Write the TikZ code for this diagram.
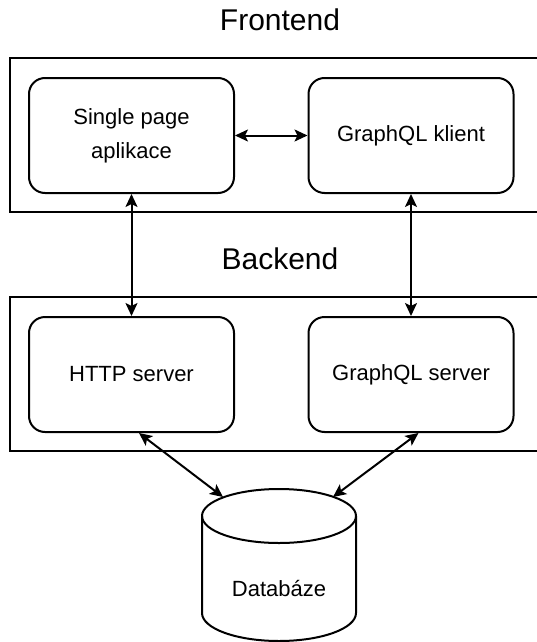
\documentclass[tikz,border=0pt]{standalone}
\usepackage{fontspec}
\setmainfont{Liberation Sans}
\usetikzlibrary{arrows.meta}
\begin{document}
\begin{tikzpicture}[x=1pt,y=-1pt,
  frame/.style={draw,line width=2pt},
  comp/.style={draw,line width=2pt,rounded corners=16pt,minimum width=205pt,minimum height=115pt,inner sep=0pt,font=\fontsize{22}{34}\selectfont,align=center},
  title/.style={font=\fontsize{30}{36}\selectfont,inner sep=0pt,anchor=base},
  conn/.style={line width=2pt,{Stealth[length=13pt,width=12pt,inset=3pt]}-{Stealth[length=13pt,width=12pt,inset=3pt]}}
]
\useasboundingbox (0,0) rectangle (537,642);
\draw[frame] (10,58) rectangle (560,212);
\draw[frame] (10,297) rectangle (560,451);
\node[title] (fe) at (280,31) {Frontend};
\node[title] (be) at (280,269) {Backend};
\node[comp] (spa) at (131.5,135.5) {Single page\\aplikace};
\node[comp] (gqk) at (411,135.5) {GraphQL klient};
\node[comp] (http) at (131.5,374.5) {HTTP server};
\node[comp] (gqs) at (411,374.5) {GraphQL server};
% cylinder
\draw[line width=2pt] (202,516) arc[start angle=180,end angle=-180,x radius=77,y radius=27];
\draw[line width=2pt] (202,516) -- (202,613)
  arc[start angle=180,end angle=0,x radius=77,y radius=28] -- (356,516);
\node[inner sep=0pt,font=\fontsize{22}{26}\selectfont] (db) at (279,589) {Databáze};
\coordinate (dbl) at (223,497);
\coordinate (dbr) at (333,497);
\draw[conn] (spa.east) -- (gqk.west);
\draw[conn] (spa.south) -- (http.north);
\draw[conn] (gqk.south) -- (gqs.north);
\draw[conn] (http.south east) ++(-96,0) coordinate (hs) (hs) -- (dbl);
\draw[conn] (gqs.south west) ++(111,0) coordinate (gs) (gs) -- (dbr);
\end{tikzpicture}
\end{document}
